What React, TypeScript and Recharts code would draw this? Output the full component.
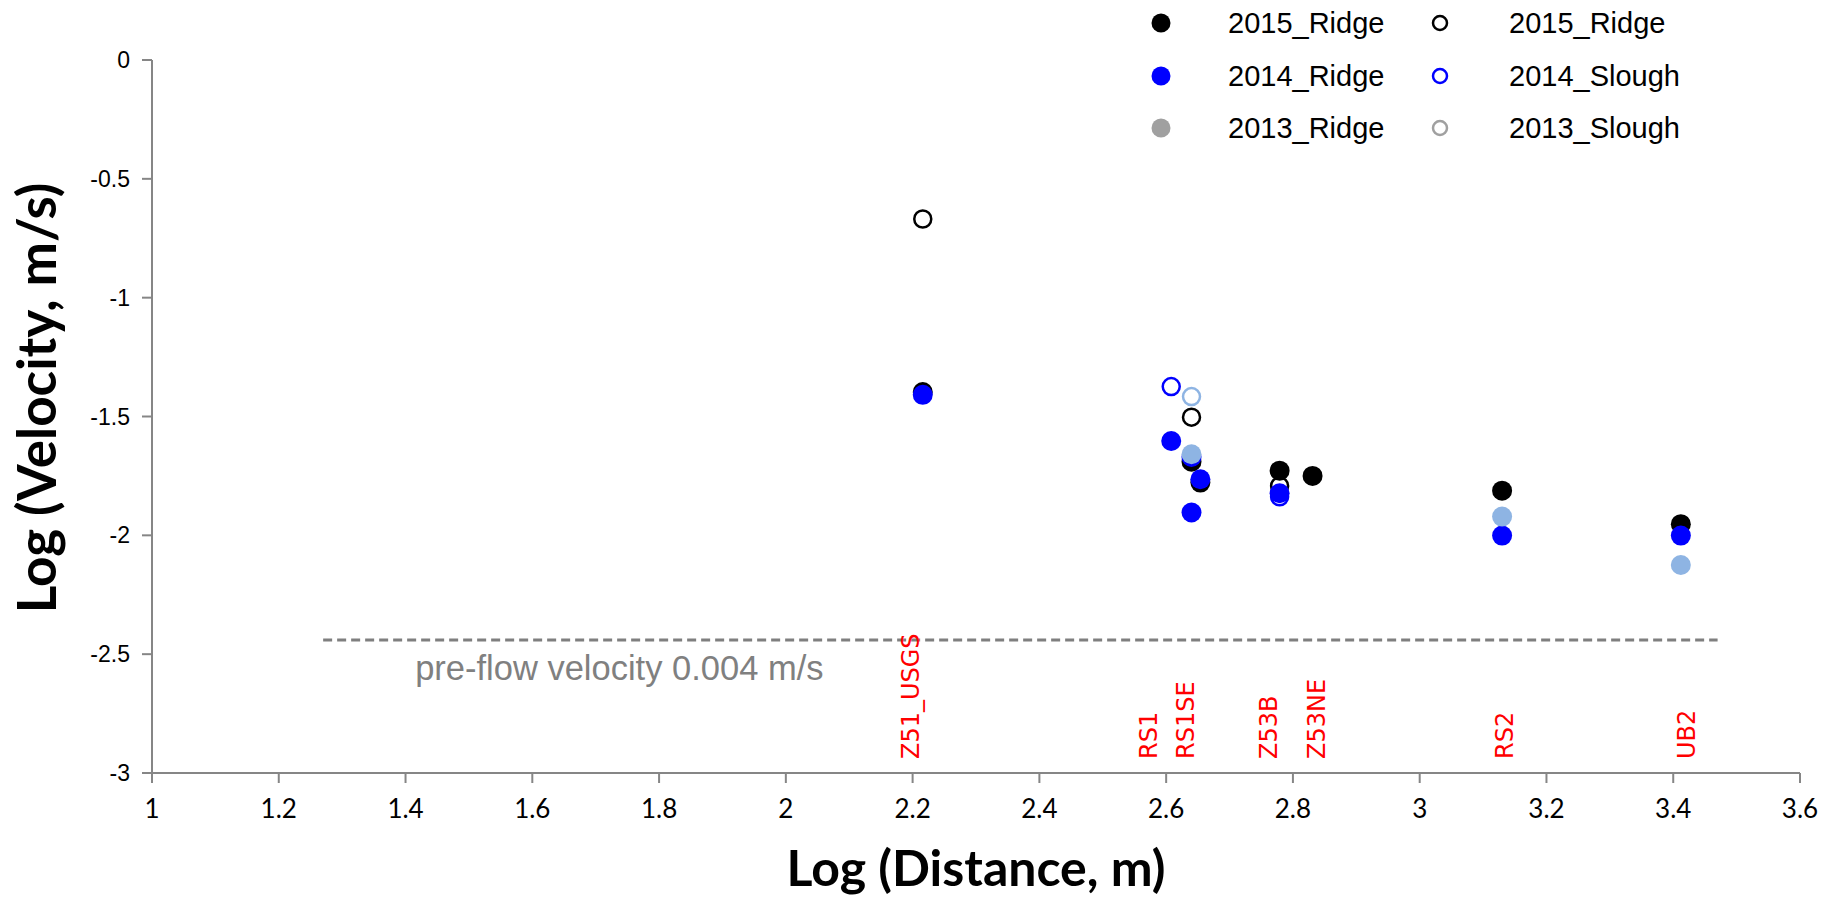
import { ScatterChart, Scatter, XAxis, YAxis, ReferenceLine } from 'recharts';

// axis ticks
const xTicks = [1, 1.2, 1.4, 1.6, 1.8, 2, 2.2, 2.4, 2.6, 2.8, 3, 3.2, 3.4, 3.6];
const yTicks = [0, -0.5, -1, -1.5, -2, -2.5, -3];

// filled = ridge, open = slough (values are log10)
const ridge2015 = [
  { x: 2.216, y: -1.397 },
  { x: 2.64, y: -1.69 },
  { x: 2.654, y: -1.778 },
  { x: 2.779, y: -1.728 },
  { x: 2.831, y: -1.75 },
  { x: 3.13, y: -1.812 },
  { x: 3.412, y: -1.953 },
];
const slough2015 = [
  { x: 2.216, y: -0.669 },
  { x: 2.64, y: -1.503 },
  { x: 2.779, y: -1.792 },
];
const ridge2014 = [
  { x: 2.216, y: -1.409 },
  { x: 2.608, y: -1.603 },
  { x: 2.64, y: -1.67 },
  { x: 2.64, y: -1.904 },
  { x: 2.654, y: -1.764 },
  { x: 2.779, y: -1.823 },
  { x: 3.13, y: -2.001 },
  { x: 3.412, y: -2.001 },
];
const slough2014 = [
  { x: 2.608, y: -1.374 },
  { x: 2.779, y: -1.838 },
];
const ridge2013 = [
  { x: 2.64, y: -1.659 },
  { x: 3.13, y: -1.921 },
  { x: 3.412, y: -2.125 },
];
const slough2013 = [{ x: 2.64, y: -1.416 }];

// site names along the bottom
const sites = [
  { x: 2.197, y: -3, name: 'Z51_USGS' },
  { x: 2.573, y: -3, name: 'RS1' },
  { x: 2.631, y: -3, name: 'RS1SE' },
  { x: 2.762, y: -3, name: 'Z53B' },
  { x: 2.838, y: -3, name: 'Z53NE' },
  { x: 3.134, y: -3, name: 'RS2' },
  { x: 3.422, y: -3, name: 'UB2' },
];

const preFlow = -2.44;
const preFlowRange = [1.27, 3.47];

const legendItems = [
  { label: '2015_Ridge', color: '#000000', open: false },
  { label: '2015_Ridge', color: '#000000', open: true },
  { label: '2014_Ridge', color: '#0000FF', open: false },
  { label: '2014_Slough', color: '#0000FF', open: true },
  { label: '2013_Ridge', color: '#A0A0A0', open: false },
  { label: '2013_Slough', color: '#A0A0A0', open: true },
];

const AXIS = '#868686';
const LIGHT_BLUE = '#8EB4E3';

const filled = (color: string) => (p: any) => (
  <circle cx={p.cx} cy={p.cy} r={10} fill={color} />
);
const hollow = (color: string) => (p: any) => (
  <circle cx={p.cx} cy={p.cy} r={8.5} fill="none" stroke={color} strokeWidth={2.5} />
);

const siteLabel = (p: any) => {
  const y = p.cy - 14;
  return (
    <text
      x={p.cx}
      y={y}
      transform={`rotate(-90 ${p.cx} ${y})`}
      textAnchor="start"
      dominantBaseline="central"
      fill="#FF0000"
      fontFamily="DejaVu Sans"
      fontSize={24}
    >
      {p.payload.name}
    </text>
  );
};

const XTick = ({ x, y, payload }: any) => (
  <text x={x} y={y + 33} textAnchor="middle" fontFamily="Lato" fontSize={26} fill="#000">
    {payload.value}
  </text>
);

const YTick = ({ x, y, payload }: any) => (
  <text x={x} y={y} textAnchor="end" dominantBaseline="central" fontFamily="Liberation Sans" fontSize={23} fill="#000">
    {payload.value}
  </text>
);

function Legend() {
  return (
    <div style={{ position: 'absolute', left: 0, top: 0, width: 1825, height: 160, pointerEvents: 'none' }}>
      {legendItems.map((item, i) => {
        const col = i % 2;
        const row = Math.floor(i / 2);
        const mx = col === 0 ? 1161 : 1440;
        const tx = col === 0 ? 1228 : 1509;
        const cy = 23 + row * 52.5;
        return (
          <div key={i}>
            <svg style={{ position: 'absolute', left: mx - 12, top: cy - 12 }} width={24} height={24}>
              {item.open ? (
                <circle cx={12} cy={12} r={7} fill="none" stroke={item.color} strokeWidth={2.5} />
              ) : (
                <circle cx={12} cy={12} r={9.5} fill={item.color} />
              )}
            </svg>
            <div
              style={{
                position: 'absolute',
                left: tx,
                top: cy - 17,
                fontFamily: 'Liberation Sans',
                fontSize: 29,
                lineHeight: '34px',
                color: '#000',
                whiteSpace: 'nowrap',
              }}
            >
              {item.label}
            </div>
          </div>
        );
      })}
    </div>
  );
}

export default function App() {
  return (
    <div style={{ position: 'absolute', left: 0, top: 0, width: 1825, height: 900, background: '#fff', overflow: 'hidden' }}>
      <div style={{ position: 'absolute', left: 0, top: 0 }}>
        <ScatterChart width={1825} height={900} margin={{ top: 60, right: 25, left: 52, bottom: 57 }}>
          <XAxis
            type="number"
            dataKey="x"
            domain={[1, 3.6]}
            ticks={xTicks}
            interval={0}
            allowDataOverflow
            height={70}
            stroke={AXIS}
            strokeWidth={2}
            tickSize={10}
            tick={<XTick />}
            label={(props: any) => {
              const vb = props.viewBox;
              return (
                <text
                  x={vb.x + vb.width / 2}
                  y={886}
                  textAnchor="middle"
                  fontFamily="Lato"
                  fontWeight={700}
                  fontSize={50}
                  fill="#000"
                >
                  Log (Distance, m)
                </text>
              );
            }}
          />
          <YAxis
            type="number"
            dataKey="y"
            domain={[-3, 0]}
            ticks={yTicks}
            interval={0}
            allowDataOverflow
            width={100}
            stroke={AXIS}
            strokeWidth={2}
            tickSize={10}
            tickMargin={12}
            tick={<YTick />}
            label={() => (
              <text
                x={35}
                y={398}
                transform="rotate(-90 35 398)"
                textAnchor="middle"
                dominantBaseline="central"
                fontFamily="Lato"
                fontWeight={700}
                fontSize={53}
                fill="#000"
              >
                Log (Velocity, m/s)
              </text>
            )}
          />
          <ReferenceLine
            segment={[
              { x: preFlowRange[0], y: preFlow },
              { x: preFlowRange[1], y: preFlow },
            ]}
            stroke="#7F7F7F"
            strokeWidth={3}
            strokeDasharray="9 5"
            label={(props: any) => {
              const vb = props.viewBox;
              return (
                <text
                  x={vb.x + 92}
                  y={vb.y + 40}
                  fontFamily="Liberation Sans"
                  fontSize={34.5}
                  fill="#808080"
                >
                  pre-flow velocity 0.004 m/s
                </text>
              );
            }}
          />
          <Scatter data={sites} shape={siteLabel} isAnimationActive={false} />
          <Scatter data={ridge2015} shape={filled('#000000')} isAnimationActive={false} />
          <Scatter data={slough2015} shape={hollow('#000000')} isAnimationActive={false} />
          <Scatter data={ridge2014} shape={filled('#0000FF')} isAnimationActive={false} />
          <Scatter data={slough2014} shape={hollow('#0000FF')} isAnimationActive={false} />
          <Scatter data={ridge2013} shape={filled(LIGHT_BLUE)} isAnimationActive={false} />
          <Scatter data={slough2013} shape={hollow(LIGHT_BLUE)} isAnimationActive={false} />
        </ScatterChart>
      </div>
      <Legend />
    </div>
  );
}
